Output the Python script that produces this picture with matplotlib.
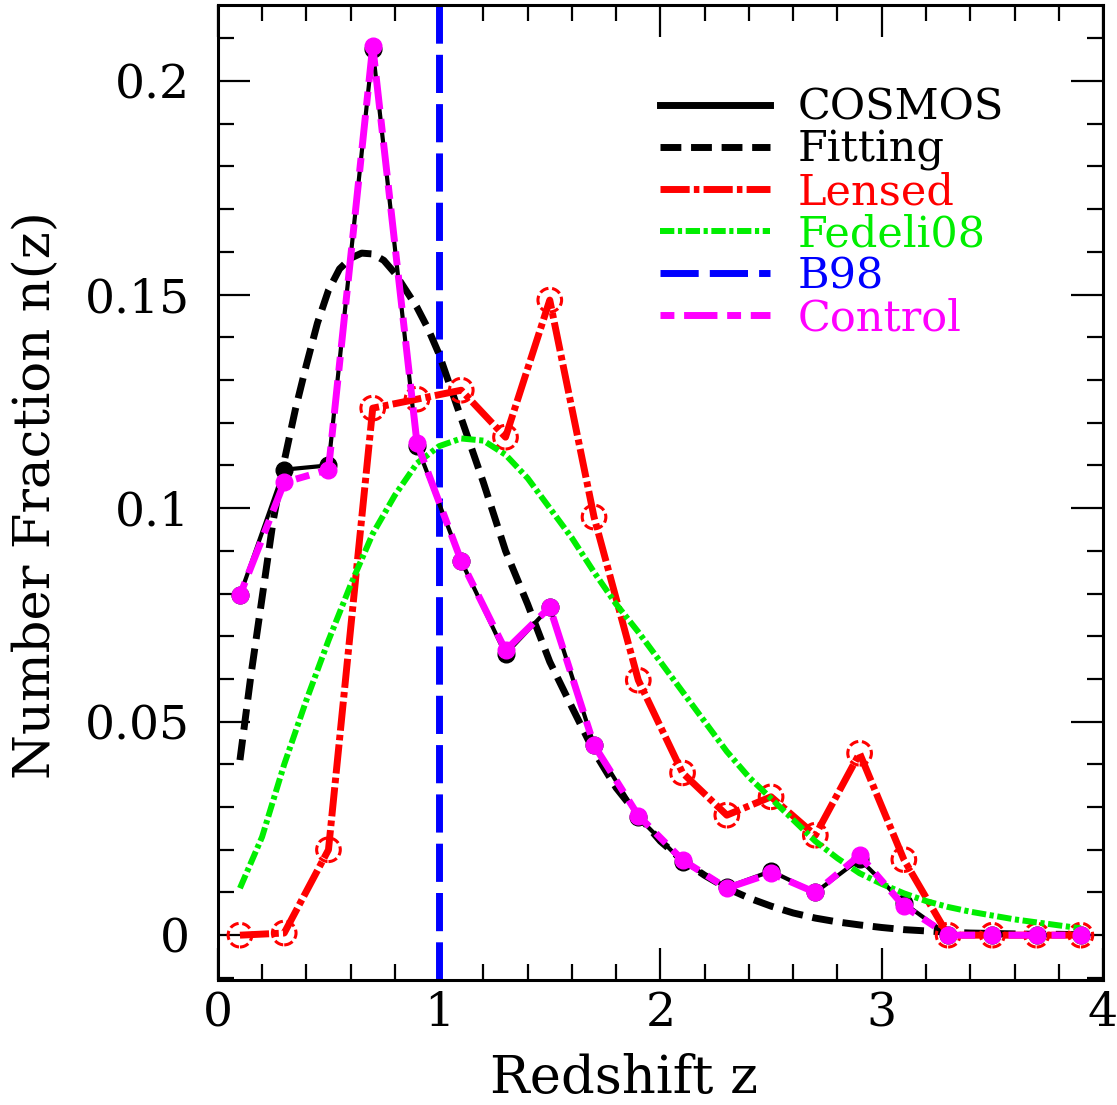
import matplotlib.pyplot as plt
from matplotlib.ticker import MultipleLocator

plt.rcParams['font.family'] = 'DejaVu Serif'

# binned redshift distributions (bin centres 0.1 ... 3.9)
z_bins = [0.1, 0.3, 0.5, 0.7, 0.9, 1.1, 1.3, 1.5, 1.7, 1.9,
          2.1, 2.3, 2.5, 2.7, 2.9, 3.1, 3.3, 3.5, 3.7, 3.9]
cosmos = [0.0796, 0.109, 0.110, 0.2075, 0.1145, 0.0876, 0.0658, 0.0768, 0.0445, 0.0276,
          0.0172, 0.0112, 0.0150, 0.0100, 0.0178, 0.0075, 0.0, 0.0, 0.0, 0.0]
control = [0.0796, 0.1060, 0.109, 0.2082, 0.1152, 0.0876, 0.0667, 0.0768, 0.0445, 0.0280,
           0.0176, 0.0110, 0.0145, 0.0100, 0.0187, 0.0068, 0.0, 0.0, 0.0, 0.0]
lensed = [0.0, 0.0005, 0.020, 0.1234, 0.1255, 0.1276, 0.1166, 0.1487, 0.0979, 0.0597,
          0.0380, 0.0281, 0.0324, 0.0234, 0.0426, 0.0177, 0.0, 0.0, 0.0, 0.0]

# smooth curves
z_fit = [0.1, 0.15, 0.2, 0.25, 0.3, 0.35, 0.4, 0.45, 0.5, 0.55,
         0.6, 0.65, 0.7, 0.75, 0.8, 0.85, 0.9, 0.95, 1.0,
         1.1, 1.2, 1.3, 1.4, 1.5, 1.6, 1.7, 1.8, 1.9, 2.0,
         2.1, 2.2, 2.3, 2.4, 2.5, 2.6, 2.7, 2.8, 2.9, 3.0,
         3.1, 3.2, 3.3, 3.4, 3.5, 3.6, 3.7, 3.8, 3.9]
fitting = [0.041, 0.061, 0.079, 0.097, 0.111, 0.123, 0.1335, 0.1433, 0.151, 0.156,
           0.1585, 0.1597, 0.1595, 0.158, 0.155, 0.151, 0.147, 0.142, 0.136,
           0.121, 0.106, 0.090, 0.0775, 0.064, 0.0534, 0.043, 0.0345, 0.028, 0.022,
           0.0175, 0.014, 0.011, 0.0087, 0.0068, 0.0052, 0.0040, 0.0031, 0.0024, 0.0018,
           0.0013, 0.0010, 0.0007, 0.0005, 0.0004, 0.0003, 0.0002, 0.0002, 0.0001]
z_fed = [0.1, 0.2, 0.3, 0.4, 0.5, 0.6, 0.7, 0.8, 0.9, 1.0,
         1.1, 1.2, 1.3, 1.4, 1.5, 1.6, 1.7, 1.8, 1.9, 2.0,
         2.1, 2.2, 2.3, 2.4, 2.5, 2.6, 2.7, 2.8, 2.9, 3.0,
         3.1, 3.2, 3.3, 3.4, 3.5, 3.6, 3.7, 3.8, 3.9]
fedeli = [0.011, 0.023, 0.040, 0.055, 0.069, 0.082, 0.094, 0.103, 0.1105, 0.1145,
          0.1163, 0.1158, 0.1125, 0.107, 0.100, 0.093, 0.085, 0.0775, 0.071, 0.064,
          0.057, 0.050, 0.043, 0.037, 0.032, 0.027, 0.022, 0.018, 0.0145, 0.012,
          0.0098, 0.008, 0.0066, 0.0055, 0.0046, 0.0037, 0.003, 0.0023, 0.0016]

b98_z = 1.0

fig = plt.figure(figsize=(11.17, 11.05), dpi=100)
ax = fig.add_axes([0.195, 0.1131, 0.7925, 0.8824])

ax.axvline(b98_z, color='blue', lw=5, ls=(0, (5.5, 1.6)), label='B98', zorder=2)
ax.plot(z_bins, cosmos, color='black', lw=3, ls='-', label='COSMOS', zorder=3)
ax.plot(z_bins, cosmos, 'o', color='black', ms=12, zorder=3)
ax.plot(z_fit, fitting, color='black', lw=5, ls=(0, (3, 1.4)), label='Fitting', zorder=4)
ax.plot(z_bins, lensed, color='red', lw=5, ls=(0, (4.2, 0.6, 0.8, 0.6)), label='Lensed', zorder=5)
ax.scatter(z_bins, lensed, s=290, facecolors='none', edgecolors='red', linewidths=2.2,
           linestyles=(0, (3, 1.2)), zorder=5)
ax.plot(z_fed, fedeli, color='#00ee00', lw=4.3, ls=(0, (2.4, 0.6, 0.7, 0.6)), label='Fedeli08', zorder=6)
ax.plot(z_bins, control, color='magenta', lw=5, ls=(0, (2, 1.4, 4.8, 1.4)), label='Control', zorder=7)
ax.plot(z_bins, control, 'o', color='magenta', ms=12, zorder=7)

ax.set_xlim(0, 4)
ax.set_ylim(-0.0105, 0.2178)
ax.xaxis.set_major_locator(MultipleLocator(1))
ax.xaxis.set_minor_locator(MultipleLocator(0.2))
ax.yaxis.set_major_locator(MultipleLocator(0.05))
ax.yaxis.set_minor_locator(MultipleLocator(0.01))
ax.xaxis.set_major_formatter(plt.FuncFormatter(lambda v, p: '%g' % v))
ax.yaxis.set_major_formatter(plt.FuncFormatter(lambda v, p: '%g' % round(v, 3)))
ax.tick_params(which='both', direction='in', top=True, right=True, width=1.6, labelsize=34)
ax.tick_params(which='major', length=23)
ax.tick_params(which='minor', length=11.5)
ax.tick_params(axis='x', pad=8)
ax.tick_params(axis='y', pad=20)
for s in ax.spines.values():
    s.set_linewidth(2.2)

ax.text(-0.2045, 0.497, 'Number Fraction n(z)', transform=ax.transAxes, rotation=90,
        ha='center', va='center', fontsize=37)
ax.text(0.4593, -0.1005, 'Redshift z', transform=ax.transAxes,
        ha='center', va='center', fontsize=38)

order = ['COSMOS', 'Fitting', 'Lensed', 'Fedeli08', 'B98', 'Control']
handles, labels = ax.get_legend_handles_labels()
lookup = dict(zip(labels, handles))
leg = ax.legend([lookup[k] for k in order], order, loc='upper left',
                bbox_to_anchor=(0.4994, 0.916), frameon=False, fontsize=31,
                handlelength=2.56, handletextpad=0.63, labelspacing=0.0,
                borderpad=0, borderaxespad=0)
for txt, c in zip(leg.get_texts(), ['black', 'black', 'red', '#00ee00', 'blue', 'magenta']):
    txt.set_color(c)
for ln, w in zip(leg.get_lines(), [5, 5, 5, 4.3, 5, 5]):
    ln.set_linewidth(w)

fig.savefig('out.png', dpi=100)
